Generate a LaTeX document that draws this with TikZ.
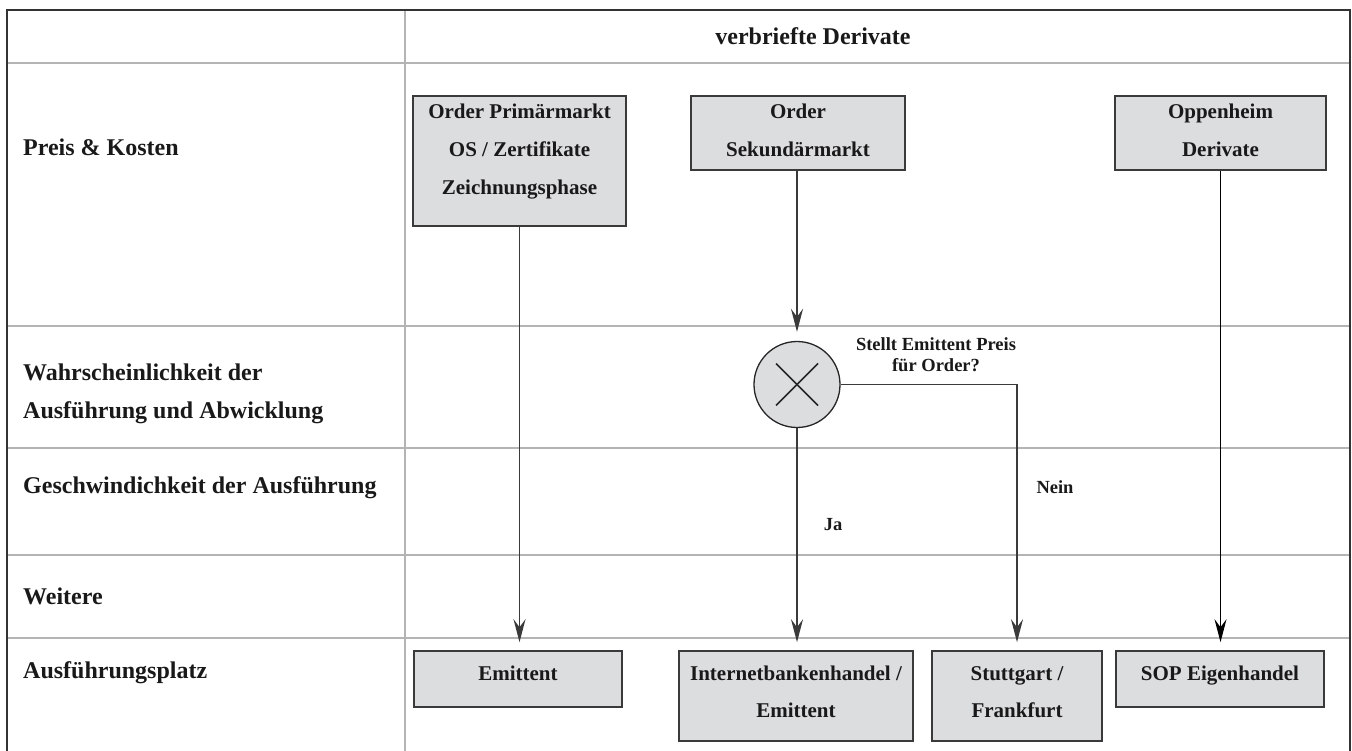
\documentclass[tikz,border=0pt]{standalone}
\usepackage{fontspec}
\setmainfont{Liberation Serif}
\usetikzlibrary{arrows.meta}
\definecolor{gridgray}{HTML}{B4B4B4}
\definecolor{framedark}{HTML}{333333}
\definecolor{boxborder}{HTML}{3A3A3A}
\definecolor{boxfill}{HTML}{DCDDDF}
\definecolor{linecol}{HTML}{3A3A3A}
\newcommand\rlfont{\fontsize{24}{28}\selectfont\bfseries}
\newcommand\bxfont{\fontsize{21}{25}\selectfont\bfseries}
\newcommand\smfont{\fontsize{18.5}{22}\selectfont\bfseries}
\tikzset{
  tline/.style={draw=gridgray, line width=1.5pt},
  fline/.style={draw=framedark, line width=1.8pt},
  box/.style={draw=boxborder, fill=boxfill, line width=1.6pt, inner sep=0pt, rectangle},
  lbl/.style={anchor=base west, inner sep=0pt, font=\rlfont, text=black!90},
  btxt/.style={anchor=base, inner sep=0pt, font=\bxfont, text=black!90},
  stxt/.style={anchor=base, inner sep=0pt, font=\smfont, text=black!90},
  flow/.style={draw=linecol, line width=1.9pt, -{Stealth[length=23pt,width=12pt,inset=8pt]}, shorten >=8pt},
}
\begin{document}
\begin{tikzpicture}[x=1pt,y=-1pt]
\useasboundingbox (0,0) rectangle (1352,751);
% table
\foreach \yy in {63,326,448,555,638} \draw[tline] (7,\yy) -- (1350,\yy);
\draw[tline] (405,10) -- (405,751);
\draw[fline] (7,751) -- (7,10) -- (1350,10) -- (1350,751);
% header
\node[lbl, anchor=base] (hdr) at (813,45) {verbriefte Derivate};
% row labels
\node[lbl] (r1) at (23,156) {Preis \& Kosten};
\node[lbl] (r2a) at (23,380) {Wahrscheinlichkeit der};
\node[lbl] (r2b) at (23,418) {Ausführung und Abwicklung};
\node[lbl] (r3) at (23,493) {Geschwindichkeit der Ausführung};
\node[lbl] (r4) at (23,604) {Weitere};
\node[lbl] (r5) at (23,678) {Ausführungsplatz};
% top boxes
\node[box, minimum width=213pt, minimum height=130pt] (b1) at (519.5,161) {};
\node[btxt] (b1a) at (519.5,119) {Order Primärmarkt};
\node[btxt] (b1b) at (519.5,157) {OS / Zertifikate};
\node[btxt] (b1c) at (519.5,195) {Zeichnungsphase};
\node[box, minimum width=214pt, minimum height=74pt] (b2) at (798,133) {};
\node[btxt] (b2a) at (798,119) {Order};
\node[btxt] (b2b) at (798,157) {Sekundärmarkt};
\node[box, minimum width=211pt, minimum height=74pt] (b3) at (1220.5,133) {};
\node[btxt] (b3a) at (1220.5,119) {Oppenheim};
\node[btxt] (b3b) at (1220.5,157) {Derivate};
% gateway
\node[circle, draw=black!85, fill=boxfill, line width=1.3pt, minimum size=86pt, inner sep=0pt] (gw) at (797,384.5) {};
\draw[draw=black!85, line width=1.6pt] (gw.center) +(-21,-21) -- +(21,21);
\draw[draw=black!85, line width=1.6pt] (gw.center) +(-21,21) -- +(21,-21);
\node[stxt] (q1) at (936,350) {Stellt Emittent Preis};
\node[stxt] (q2) at (936,371) {für Order?};
\node[stxt] (ja) at (833,530) {Ja};
\node[stxt] (nein) at (1055,493) {Nein};
% bottom boxes
\node[box, minimum width=208pt, minimum height=56pt] (e1) at (518,679) {};
\node[btxt] (e1a) at (518,680) {Emittent};
\node[box, minimum width=234pt, minimum height=90pt] (ib) at (796,696) {};
\node[btxt] (iba) at (796,680) {Internetbankenhandel /};
\node[btxt] (ibb) at (796,717) {Emittent};
\node[box, minimum width=170pt, minimum height=90pt] (st) at (1017,696) {};
\node[btxt] (sta) at (1017,680) {Stuttgart /};
\node[btxt] (stb) at (1017,717) {Frankfurt};
\node[box, minimum width=208pt, minimum height=56pt] (sop) at (1220,679) {};
\node[btxt] (sopa) at (1220,680) {SOP Eigenhandel};
% connectors
\draw[flow] (b1.south) -- (b1.south |- e1.north);
\draw[flow, shorten >=9pt] (b2.south -| gw.north) -- (gw.north);
\draw[flow] (gw.south) -- (gw.south |- ib.north);
\draw[flow] (gw.east) -| (st.north);
\draw[flow, line width=1.3pt, draw=black] (b3.south) -- (b3.south |- sop.north);
\end{tikzpicture}
\end{document}
